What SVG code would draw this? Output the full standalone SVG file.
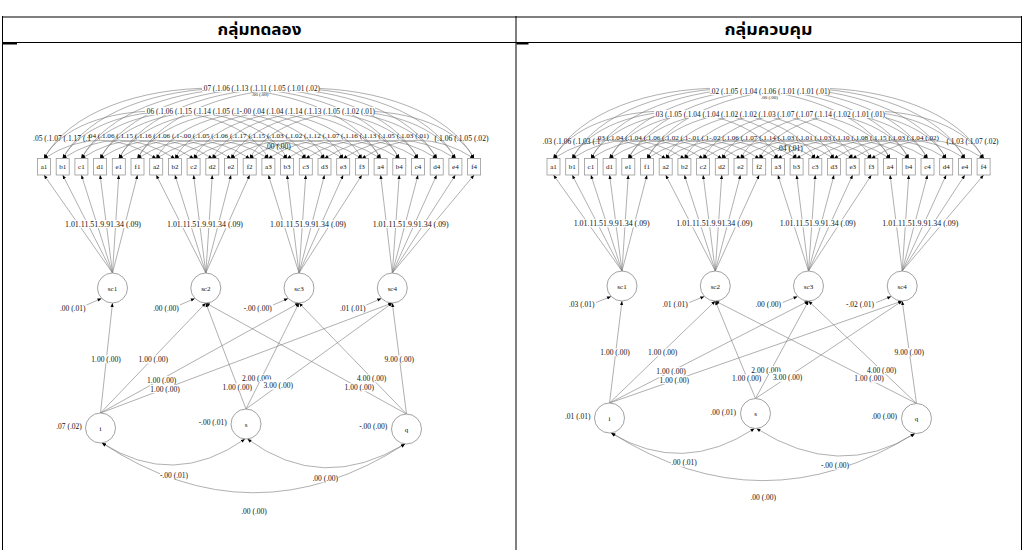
<svg xmlns="http://www.w3.org/2000/svg" width="1024" height="550" viewBox="0 0 1024 550">
<defs>
<marker id="ah" viewBox="0 0 10 10" refX="10" refY="5" markerWidth="4.5" markerHeight="4" markerUnits="userSpaceOnUse" orient="auto-start-reverse"><path d="M0,1 L10,5 L0,9 z" fill="#000"/></marker>
</defs>
<style>
.c{fill:none;stroke:#7a7a7a;stroke-width:0.6}
.a{marker-end:url(#ah)}
.aa{marker-start:url(#ah);marker-end:url(#ah)}
.bx{fill:#fff;stroke:#9a9a9a;stroke-width:0.8}
.lv{fill:#fff;stroke:#8a8a8a;stroke-width:0.8}
.t{font-family:"Liberation Serif","Times New Roman",serif;font-size:7.5px;fill:#111;text-anchor:middle}
.s{text-anchor:start}
.n{font-size:7px}
.sm{font-size:5px}
.r3{font-size:7.15px}
.bg{fill:#fff}
.hd{font-family:"Noto Sans Thai","Noto Sans",sans-serif;font-size:16px;font-weight:bold;text-anchor:middle;fill:#000}
.tb{stroke:#000;stroke-width:1;fill:none}
</style>
<rect width="1024" height="550" fill="#fff"/>
<g id="table">
<line class="tb" x1="2" y1="17" x2="1022" y2="17" stroke-width="2"/>
<line class="tb" x1="2" y1="42.5" x2="1022" y2="42.5"/>
<line class="tb" x1="2.5" y1="16" x2="2.5" y2="550"/>
<line class="tb" x1="516" y1="16" x2="516" y2="550"/>
<line class="tb" x1="1021.5" y1="16" x2="1021.5" y2="550"/>
<rect x="3" y="43" width="14" height="1.5" fill="#000"/>
<rect x="516.5" y="43" width="12" height="1.5" fill="#000"/>
<text class="hd" x="259.5" y="35" textLength="84" lengthAdjust="spacingAndGlyphs">กลุ่มทดลอง</text>
<text class="hd" x="768.5" y="35" textLength="88" lengthAdjust="spacingAndGlyphs">กลุ่มควบคุม</text>
</g>

<g id="left">
<g id="L-connectors">
<path class="c aa" d="M44 158.5 Q100.1 122 156.2 158.5"/>
<path class="c aa" d="M62.7 158.5 Q118.8 122 174.9 158.5"/>
<path class="c aa" d="M81.4 158.5 Q137.5 122 193.6 158.5"/>
<path class="c aa" d="M100.1 158.5 Q156.2 122 212.3 158.5"/>
<path class="c aa" d="M118.8 158.5 Q174.9 122 231 158.5"/>
<path class="c aa" d="M137.5 158.5 Q193.6 122 249.7 158.5"/>
<path class="c aa" d="M156.2 158.5 Q212.3 122 268.4 158.5"/>
<path class="c aa" d="M174.9 158.5 Q231 122 287.1 158.5"/>
<path class="c aa" d="M193.6 158.5 Q249.7 122 305.8 158.5"/>
<path class="c aa" d="M212.3 158.5 Q268.4 122 324.5 158.5"/>
<path class="c aa" d="M231 158.5 Q287.1 122 343.2 158.5"/>
<path class="c aa" d="M249.7 158.5 Q305.8 122 361.9 158.5"/>
<path class="c aa" d="M268.4 158.5 Q324.5 122 380.6 158.5"/>
<path class="c aa" d="M287.1 158.5 Q343.2 122 399.3 158.5"/>
<path class="c aa" d="M305.8 158.5 Q361.9 122 418 158.5"/>
<path class="c aa" d="M324.5 158.5 Q380.6 122 436.7 158.5"/>
<path class="c aa" d="M343.2 158.5 Q399.3 122 455.4 158.5"/>
<path class="c aa" d="M361.9 158.5 Q418 122 474.1 158.5"/>
<path class="c aa" d="M44 158.5 C77.7 95.3 234.7 95.3 268.4 158.5"/>
<path class="c aa" d="M62.7 158.5 C96.4 95.3 253.4 95.3 287.1 158.5"/>
<path class="c aa" d="M81.4 158.5 C115.1 95.3 272.1 95.3 305.8 158.5"/>
<path class="c aa" d="M100.1 158.5 C133.8 95.3 290.8 95.3 324.5 158.5"/>
<path class="c aa" d="M118.8 158.5 C152.5 95.3 309.5 95.3 343.2 158.5"/>
<path class="c aa" d="M137.5 158.5 C171.2 95.3 328.2 95.3 361.9 158.5"/>
<path class="c aa" d="M156.2 158.5 C189.9 95.3 346.9 95.3 380.6 158.5"/>
<path class="c aa" d="M174.9 158.5 C208.6 95.3 365.6 95.3 399.3 158.5"/>
<path class="c aa" d="M193.6 158.5 C227.3 95.3 384.3 95.3 418 158.5"/>
<path class="c aa" d="M212.3 158.5 C246 95.3 403 95.3 436.7 158.5"/>
<path class="c aa" d="M231 158.5 C264.7 95.3 421.7 95.3 455.4 158.5"/>
<path class="c aa" d="M249.7 158.5 C283.4 95.3 440.4 95.3 474.1 158.5"/>
<path class="c aa" d="M44 158.5 C94.5 64.7 330.1 64.7 380.6 158.5"/>
<path class="c aa" d="M62.7 158.5 C113.2 64.7 348.8 64.7 399.3 158.5"/>
<path class="c aa" d="M81.4 158.5 C131.9 64.7 367.5 64.7 418 158.5"/>
<path class="c aa" d="M100.1 158.5 C150.6 64.7 386.2 64.7 436.7 158.5"/>
<path class="c aa" d="M118.8 158.5 C169.3 64.7 404.9 64.7 455.4 158.5"/>
<path class="c aa" d="M137.5 158.5 C188 64.7 423.6 64.7 474.1 158.5"/>
<line class="c a" x1="112.5" y1="273" x2="44" y2="175"/>
<line class="c a" x1="112.5" y1="273" x2="62.7" y2="175"/>
<line class="c a" x1="112.5" y1="273" x2="81.4" y2="175"/>
<line class="c a" x1="112.5" y1="273" x2="100.1" y2="175"/>
<line class="c a" x1="112.5" y1="273" x2="118.8" y2="175"/>
<line class="c a" x1="112.5" y1="273" x2="137.5" y2="175"/>
<line class="c a" x1="205.8" y1="273" x2="156.2" y2="175"/>
<line class="c a" x1="205.8" y1="273" x2="174.9" y2="175"/>
<line class="c a" x1="205.8" y1="273" x2="193.6" y2="175"/>
<line class="c a" x1="205.8" y1="273" x2="212.3" y2="175"/>
<line class="c a" x1="205.8" y1="273" x2="231" y2="175"/>
<line class="c a" x1="205.8" y1="273" x2="249.7" y2="175"/>
<line class="c a" x1="299" y1="273" x2="268.4" y2="175"/>
<line class="c a" x1="299" y1="273" x2="287.1" y2="175"/>
<line class="c a" x1="299" y1="273" x2="305.8" y2="175"/>
<line class="c a" x1="299" y1="273" x2="324.5" y2="175"/>
<line class="c a" x1="299" y1="273" x2="343.2" y2="175"/>
<line class="c a" x1="299" y1="273" x2="361.9" y2="175"/>
<line class="c a" x1="392.3" y1="273" x2="380.6" y2="175"/>
<line class="c a" x1="392.3" y1="273" x2="399.3" y2="175"/>
<line class="c a" x1="392.3" y1="273" x2="418" y2="175"/>
<line class="c a" x1="392.3" y1="273" x2="436.7" y2="175"/>
<line class="c a" x1="392.3" y1="273" x2="455.4" y2="175"/>
<line class="c a" x1="392.3" y1="273" x2="474.1" y2="175"/>
<line class="c a" x1="86.5" y1="305" x2="101.5" y2="298.5"/>
<line class="c a" x1="179.8" y1="305" x2="194.8" y2="298.5"/>
<line class="c a" x1="273" y1="305" x2="288" y2="298.5"/>
<line class="c a" x1="366.3" y1="305" x2="381.3" y2="298.5"/>
<line class="c a" x1="100.5" y1="413" x2="112.5" y2="303"/>
<line class="c a" x1="100.5" y1="413" x2="205.8" y2="303"/>
<line class="c a" x1="100.5" y1="413" x2="299" y2="303"/>
<line class="c a" x1="100.5" y1="413" x2="392.3" y2="303"/>
<line class="c a" x1="246" y1="409" x2="205.8" y2="303"/>
<line class="c a" x1="246" y1="409" x2="299" y2="303"/>
<line class="c a" x1="246" y1="409" x2="392.3" y2="303"/>
<line class="c a" x1="406.5" y1="414" x2="205.8" y2="303"/>
<line class="c a" x1="406.5" y1="414" x2="299" y2="303"/>
<line class="c a" x1="406.5" y1="414" x2="392.3" y2="303"/>
<path class="c aa" d="M102 443 Q174 489 245 439"/>
<path class="c aa" d="M247.5 439 Q322 494 405 444"/>
<path class="c aa" d="M102 443 Q253 542 405 444"/>
</g>
<g id="L-a1"><rect class="bx" x="37.5" y="158.5" width="13" height="16.5"/><text class="t n" x="44" y="169.3">a1</text></g>
<g id="L-b1"><rect class="bx" x="56.2" y="158.5" width="13" height="16.5"/><text class="t n" x="62.7" y="169.3">b1</text></g>
<g id="L-c1"><rect class="bx" x="74.9" y="158.5" width="13" height="16.5"/><text class="t n" x="81.4" y="169.3">c1</text></g>
<g id="L-d1"><rect class="bx" x="93.6" y="158.5" width="13" height="16.5"/><text class="t n" x="100.1" y="169.3">d1</text></g>
<g id="L-e1"><rect class="bx" x="112.3" y="158.5" width="13" height="16.5"/><text class="t n" x="118.8" y="169.3">e1</text></g>
<g id="L-f1"><rect class="bx" x="131" y="158.5" width="13" height="16.5"/><text class="t n" x="137.5" y="169.3">f1</text></g>
<g id="L-a2"><rect class="bx" x="149.7" y="158.5" width="13" height="16.5"/><text class="t n" x="156.2" y="169.3">a2</text></g>
<g id="L-b2"><rect class="bx" x="168.4" y="158.5" width="13" height="16.5"/><text class="t n" x="174.9" y="169.3">b2</text></g>
<g id="L-c2"><rect class="bx" x="187.1" y="158.5" width="13" height="16.5"/><text class="t n" x="193.6" y="169.3">c2</text></g>
<g id="L-d2"><rect class="bx" x="205.8" y="158.5" width="13" height="16.5"/><text class="t n" x="212.3" y="169.3">d2</text></g>
<g id="L-e2"><rect class="bx" x="224.5" y="158.5" width="13" height="16.5"/><text class="t n" x="231" y="169.3">e2</text></g>
<g id="L-f2"><rect class="bx" x="243.2" y="158.5" width="13" height="16.5"/><text class="t n" x="249.7" y="169.3">f2</text></g>
<g id="L-a3"><rect class="bx" x="261.9" y="158.5" width="13" height="16.5"/><text class="t n" x="268.4" y="169.3">a3</text></g>
<g id="L-b3"><rect class="bx" x="280.6" y="158.5" width="13" height="16.5"/><text class="t n" x="287.1" y="169.3">b3</text></g>
<g id="L-c3"><rect class="bx" x="299.3" y="158.5" width="13" height="16.5"/><text class="t n" x="305.8" y="169.3">c3</text></g>
<g id="L-d3"><rect class="bx" x="318" y="158.5" width="13" height="16.5"/><text class="t n" x="324.5" y="169.3">d3</text></g>
<g id="L-e3"><rect class="bx" x="336.7" y="158.5" width="13" height="16.5"/><text class="t n" x="343.2" y="169.3">e3</text></g>
<g id="L-f3"><rect class="bx" x="355.4" y="158.5" width="13" height="16.5"/><text class="t n" x="361.9" y="169.3">f3</text></g>
<g id="L-a4"><rect class="bx" x="374.1" y="158.5" width="13" height="16.5"/><text class="t n" x="380.6" y="169.3">a4</text></g>
<g id="L-b4"><rect class="bx" x="392.8" y="158.5" width="13" height="16.5"/><text class="t n" x="399.3" y="169.3">b4</text></g>
<g id="L-c4"><rect class="bx" x="411.5" y="158.5" width="13" height="16.5"/><text class="t n" x="418" y="169.3">c4</text></g>
<g id="L-d4"><rect class="bx" x="430.2" y="158.5" width="13" height="16.5"/><text class="t n" x="436.7" y="169.3">d4</text></g>
<g id="L-e4"><rect class="bx" x="448.9" y="158.5" width="13" height="16.5"/><text class="t n" x="455.4" y="169.3">e4</text></g>
<g id="L-f4"><rect class="bx" x="467.6" y="158.5" width="13" height="16.5"/><text class="t n" x="474.1" y="169.3">f4</text></g>
<g id="L-sc1"><circle class="lv" cx="112.5" cy="288" r="15"/><text class="t n" x="112.5" y="290.5">sc1</text></g>
<g id="L-sc2"><circle class="lv" cx="205.8" cy="288" r="15"/><text class="t n" x="205.8" y="290.5">sc2</text></g>
<g id="L-sc3"><circle class="lv" cx="299" cy="288" r="15"/><text class="t n" x="299" y="290.5">sc3</text></g>
<g id="L-sc4"><circle class="lv" cx="392.3" cy="288" r="15"/><text class="t n" x="392.3" y="290.5">sc4</text></g>
<g id="L-i"><circle class="lv" cx="100.5" cy="428" r="15"/><text class="t n" x="100.5" y="430.5">i</text></g>
<g id="L-s"><circle class="lv" cx="246" cy="424" r="15"/><text class="t n" x="246" y="426.5">s</text></g>
<g id="L-q"><circle class="lv" cx="406.5" cy="429" r="15"/><text class="t n" x="406.5" y="431.5">q</text></g>
<g id="L-labels">
<rect class="bg" x="202" y="84" width="118" height="8"/>
<text class="t s" x="202" y="90.6" textLength="118" lengthAdjust="spacingAndGlyphs">.07 (.1.06 (.1.13 (.1.11 (.1.05 (.1.01 (.02)</text>
<text class="t sm" x="260" y="96">.00 (.00)</text>
<rect class="bg" x="145" y="107" width="230" height="8"/>
<text class="t s" x="145" y="113.6" textLength="230" lengthAdjust="spacingAndGlyphs">.06 (.1.06 (.1.15 (.1.14 (.1.05 (.1-.00 (.04 (.1.04 (.1.14 (.1.13 (.1.05 (.1.02 (.01)</text>
<text class="t s" x="33" y="140.8">.05 (.1.07 (.1.17 (.1</text>
<text class="t s r3" x="87" y="137.8" textLength="342" lengthAdjust="spacingAndGlyphs">.04 (.1.06 (.1.15 (.1.16 (.1.06 (.1-.00 (.1.05 (.1.06 (.1.17 (.1.15 (.1.03 (.1.02 (.1.12 (.1.07 (.1.16 (.1.13 (.1.05 (.1.03 (.01)</text>
<text class="t s" x="434.5" y="140.8" textLength="54" lengthAdjust="spacingAndGlyphs">(.1.06 (.1.05 (.02)</text>
<text class="t" x="278" y="149.2">.00 (.00)</text>
<rect class="bg" x="65" y="220" width="76" height="8"/><text class="t" x="103" y="226.6" textLength="76" lengthAdjust="spacingAndGlyphs">1.01.11.51.9.91.34 (.09)</text>
<rect class="bg" x="167" y="220" width="76" height="8"/><text class="t" x="205" y="226.6" textLength="76" lengthAdjust="spacingAndGlyphs">1.01.11.51.9.91.34 (.09)</text>
<rect class="bg" x="270" y="220" width="76" height="8"/><text class="t" x="308" y="226.6" textLength="76" lengthAdjust="spacingAndGlyphs">1.01.11.51.9.91.34 (.09)</text>
<rect class="bg" x="372.7" y="220" width="76" height="8"/><text class="t" x="410.7" y="226.6" textLength="76" lengthAdjust="spacingAndGlyphs">1.01.11.51.9.91.34 (.09)</text>
<text class="t" x="72.7" y="310.9">.00 (.01)</text>
<text class="t" x="166" y="310.9">.00 (.00)</text>
<text class="t" x="257.7" y="310.9">-.00 (.00)</text>
<text class="t" x="352.7" y="310.9">.01 (.01)</text>
<rect class="bg" x="91" y="355.3" width="30" height="8"/><text class="t" x="106" y="361.9">1.00 (.00)</text>
<rect class="bg" x="138.3" y="355.3" width="30" height="8"/><text class="t" x="153.3" y="361.9">1.00 (.00)</text>
<rect class="bg" x="146.7" y="376" width="30" height="8"/><text class="t" x="161.7" y="382.6">1.00 (.00)</text>
<rect class="bg" x="150" y="385" width="30" height="8"/><text class="t" x="165" y="391.6">1.00 (.00)</text>
<rect class="bg" x="222.3" y="383.3" width="30" height="8"/><text class="t" x="237.3" y="389.9">1.00 (.00)</text>
<rect class="bg" x="241.7" y="374.3" width="30" height="8"/><text class="t" x="256.7" y="380.9">2.00 (.00)</text>
<rect class="bg" x="263.3" y="379.5" width="30" height="10"/><text class="t" x="278.3" y="388.3">3.00 (.00)</text>
<rect class="bg" x="356.7" y="374.3" width="30" height="8"/><text class="t" x="371.7" y="380.9">4.00 (.00)</text>
<rect class="bg" x="344.3" y="383.3" width="30" height="8"/><text class="t" x="359.3" y="389.9">1.00 (.00)</text>
<rect class="bg" x="384.3" y="355.3" width="30" height="8"/><text class="t" x="399.3" y="361.9">9.00 (.00)</text>
<text class="t" x="69" y="429.3">.07 (.02)</text>
<text class="t" x="212.7" y="425.3">-.00 (.01)</text>
<text class="t" x="373.3" y="428.6">-.00 (.00)</text>
<rect class="bg" x="160" y="471" width="28" height="8"/><text class="t" x="174" y="477.6">-.00 (.01)</text>
<rect class="bg" x="312.3" y="474.3" width="26" height="8"/><text class="t" x="325.3" y="480.9">.00 (.00)</text>
<text class="t" x="254" y="513.6">.00 (.00)</text>
</g>
</g>

<g id="right" transform="translate(509.5,0)">
<g id="R-connectors">
<path class="c aa" d="M44 158.5 Q100.1 122 156.2 158.5"/>
<path class="c aa" d="M62.7 158.5 Q118.8 122 174.9 158.5"/>
<path class="c aa" d="M81.4 158.5 Q137.5 122 193.6 158.5"/>
<path class="c aa" d="M100.1 158.5 Q156.2 122 212.3 158.5"/>
<path class="c aa" d="M118.8 158.5 Q174.9 122 231 158.5"/>
<path class="c aa" d="M137.5 158.5 Q193.6 122 249.7 158.5"/>
<path class="c aa" d="M156.2 158.5 Q212.3 122 268.4 158.5"/>
<path class="c aa" d="M174.9 158.5 Q231 122 287.1 158.5"/>
<path class="c aa" d="M193.6 158.5 Q249.7 122 305.8 158.5"/>
<path class="c aa" d="M212.3 158.5 Q268.4 122 324.5 158.5"/>
<path class="c aa" d="M231 158.5 Q287.1 122 343.2 158.5"/>
<path class="c aa" d="M249.7 158.5 Q305.8 122 361.9 158.5"/>
<path class="c aa" d="M268.4 158.5 Q324.5 122 380.6 158.5"/>
<path class="c aa" d="M287.1 158.5 Q343.2 122 399.3 158.5"/>
<path class="c aa" d="M305.8 158.5 Q361.9 122 418 158.5"/>
<path class="c aa" d="M324.5 158.5 Q380.6 122 436.7 158.5"/>
<path class="c aa" d="M343.2 158.5 Q399.3 122 455.4 158.5"/>
<path class="c aa" d="M361.9 158.5 Q418 122 474.1 158.5"/>
<path class="c aa" d="M44 158.5 C77.7 95.3 234.7 95.3 268.4 158.5"/>
<path class="c aa" d="M62.7 158.5 C96.4 95.3 253.4 95.3 287.1 158.5"/>
<path class="c aa" d="M81.4 158.5 C115.1 95.3 272.1 95.3 305.8 158.5"/>
<path class="c aa" d="M100.1 158.5 C133.8 95.3 290.8 95.3 324.5 158.5"/>
<path class="c aa" d="M118.8 158.5 C152.5 95.3 309.5 95.3 343.2 158.5"/>
<path class="c aa" d="M137.5 158.5 C171.2 95.3 328.2 95.3 361.9 158.5"/>
<path class="c aa" d="M156.2 158.5 C189.9 95.3 346.9 95.3 380.6 158.5"/>
<path class="c aa" d="M174.9 158.5 C208.6 95.3 365.6 95.3 399.3 158.5"/>
<path class="c aa" d="M193.6 158.5 C227.3 95.3 384.3 95.3 418 158.5"/>
<path class="c aa" d="M212.3 158.5 C246 95.3 403 95.3 436.7 158.5"/>
<path class="c aa" d="M231 158.5 C264.7 95.3 421.7 95.3 455.4 158.5"/>
<path class="c aa" d="M249.7 158.5 C283.4 95.3 440.4 95.3 474.1 158.5"/>
<path class="c aa" d="M44 158.5 C94.5 64.7 330.1 64.7 380.6 158.5"/>
<path class="c aa" d="M62.7 158.5 C113.2 64.7 348.8 64.7 399.3 158.5"/>
<path class="c aa" d="M81.4 158.5 C131.9 64.7 367.5 64.7 418 158.5"/>
<path class="c aa" d="M100.1 158.5 C150.6 64.7 386.2 64.7 436.7 158.5"/>
<path class="c aa" d="M118.8 158.5 C169.3 64.7 404.9 64.7 455.4 158.5"/>
<path class="c aa" d="M137.5 158.5 C188 64.7 423.6 64.7 474.1 158.5"/>
<line class="c a" x1="112.5" y1="271" x2="44" y2="175"/>
<line class="c a" x1="112.5" y1="271" x2="62.7" y2="175"/>
<line class="c a" x1="112.5" y1="271" x2="81.4" y2="175"/>
<line class="c a" x1="112.5" y1="271" x2="100.1" y2="175"/>
<line class="c a" x1="112.5" y1="271" x2="118.8" y2="175"/>
<line class="c a" x1="112.5" y1="271" x2="137.5" y2="175"/>
<line class="c a" x1="205.8" y1="271" x2="156.2" y2="175"/>
<line class="c a" x1="205.8" y1="271" x2="174.9" y2="175"/>
<line class="c a" x1="205.8" y1="271" x2="193.6" y2="175"/>
<line class="c a" x1="205.8" y1="271" x2="212.3" y2="175"/>
<line class="c a" x1="205.8" y1="271" x2="231" y2="175"/>
<line class="c a" x1="205.8" y1="271" x2="249.7" y2="175"/>
<line class="c a" x1="299" y1="271" x2="268.4" y2="175"/>
<line class="c a" x1="299" y1="271" x2="287.1" y2="175"/>
<line class="c a" x1="299" y1="271" x2="305.8" y2="175"/>
<line class="c a" x1="299" y1="271" x2="324.5" y2="175"/>
<line class="c a" x1="299" y1="271" x2="343.2" y2="175"/>
<line class="c a" x1="299" y1="271" x2="361.9" y2="175"/>
<line class="c a" x1="392.7" y1="271" x2="380.6" y2="175"/>
<line class="c a" x1="392.7" y1="271" x2="399.3" y2="175"/>
<line class="c a" x1="392.7" y1="271" x2="418" y2="175"/>
<line class="c a" x1="392.7" y1="271" x2="436.7" y2="175"/>
<line class="c a" x1="392.7" y1="271" x2="455.4" y2="175"/>
<line class="c a" x1="392.7" y1="271" x2="474.1" y2="175"/>
<line class="c a" x1="86.5" y1="302.5" x2="101.5" y2="296.5"/>
<line class="c a" x1="179.8" y1="302.5" x2="194.8" y2="296.5"/>
<line class="c a" x1="273" y1="302.5" x2="288" y2="296.5"/>
<line class="c a" x1="366.7" y1="302.5" x2="381.7" y2="296.5"/>
<line class="c a" x1="100" y1="403" x2="112.5" y2="301"/>
<line class="c a" x1="100" y1="403" x2="205.8" y2="301"/>
<line class="c a" x1="100" y1="403" x2="299" y2="301"/>
<line class="c a" x1="100" y1="403" x2="392.7" y2="301"/>
<line class="c a" x1="246" y1="398.5" x2="205.8" y2="301"/>
<line class="c a" x1="246" y1="398.5" x2="299" y2="301"/>
<line class="c a" x1="246" y1="398.5" x2="392.7" y2="301"/>
<line class="c a" x1="407" y1="403.5" x2="205.8" y2="301"/>
<line class="c a" x1="407" y1="403.5" x2="299" y2="301"/>
<line class="c a" x1="407" y1="403.5" x2="392.7" y2="301"/>
<path class="c aa" d="M101.5 433 Q173 476 245 428.5"/>
<path class="c aa" d="M247 428.5 Q330 481 405.5 433.5"/>
<path class="c aa" d="M102 433 Q253 528 405 433.5"/>
</g>
<g id="R-a1"><rect class="bx" x="37.5" y="158.5" width="13" height="16.5"/><text class="t n" x="44" y="169.3">a1</text></g>
<g id="R-b1"><rect class="bx" x="56.2" y="158.5" width="13" height="16.5"/><text class="t n" x="62.7" y="169.3">b1</text></g>
<g id="R-c1"><rect class="bx" x="74.9" y="158.5" width="13" height="16.5"/><text class="t n" x="81.4" y="169.3">c1</text></g>
<g id="R-d1"><rect class="bx" x="93.6" y="158.5" width="13" height="16.5"/><text class="t n" x="100.1" y="169.3">d1</text></g>
<g id="R-e1"><rect class="bx" x="112.3" y="158.5" width="13" height="16.5"/><text class="t n" x="118.8" y="169.3">e1</text></g>
<g id="R-f1"><rect class="bx" x="131" y="158.5" width="13" height="16.5"/><text class="t n" x="137.5" y="169.3">f1</text></g>
<g id="R-a2"><rect class="bx" x="149.7" y="158.5" width="13" height="16.5"/><text class="t n" x="156.2" y="169.3">a2</text></g>
<g id="R-b2"><rect class="bx" x="168.4" y="158.5" width="13" height="16.5"/><text class="t n" x="174.9" y="169.3">b2</text></g>
<g id="R-c2"><rect class="bx" x="187.1" y="158.5" width="13" height="16.5"/><text class="t n" x="193.6" y="169.3">c2</text></g>
<g id="R-d2"><rect class="bx" x="205.8" y="158.5" width="13" height="16.5"/><text class="t n" x="212.3" y="169.3">d2</text></g>
<g id="R-e2"><rect class="bx" x="224.5" y="158.5" width="13" height="16.5"/><text class="t n" x="231" y="169.3">e2</text></g>
<g id="R-f2"><rect class="bx" x="243.2" y="158.5" width="13" height="16.5"/><text class="t n" x="249.7" y="169.3">f2</text></g>
<g id="R-a3"><rect class="bx" x="261.9" y="158.5" width="13" height="16.5"/><text class="t n" x="268.4" y="169.3">a3</text></g>
<g id="R-b3"><rect class="bx" x="280.6" y="158.5" width="13" height="16.5"/><text class="t n" x="287.1" y="169.3">b3</text></g>
<g id="R-c3"><rect class="bx" x="299.3" y="158.5" width="13" height="16.5"/><text class="t n" x="305.8" y="169.3">c3</text></g>
<g id="R-d3"><rect class="bx" x="318" y="158.5" width="13" height="16.5"/><text class="t n" x="324.5" y="169.3">d3</text></g>
<g id="R-e3"><rect class="bx" x="336.7" y="158.5" width="13" height="16.5"/><text class="t n" x="343.2" y="169.3">e3</text></g>
<g id="R-f3"><rect class="bx" x="355.4" y="158.5" width="13" height="16.5"/><text class="t n" x="361.9" y="169.3">f3</text></g>
<g id="R-a4"><rect class="bx" x="374.1" y="158.5" width="13" height="16.5"/><text class="t n" x="380.6" y="169.3">a4</text></g>
<g id="R-b4"><rect class="bx" x="392.8" y="158.5" width="13" height="16.5"/><text class="t n" x="399.3" y="169.3">b4</text></g>
<g id="R-c4"><rect class="bx" x="411.5" y="158.5" width="13" height="16.5"/><text class="t n" x="418" y="169.3">c4</text></g>
<g id="R-d4"><rect class="bx" x="430.2" y="158.5" width="13" height="16.5"/><text class="t n" x="436.7" y="169.3">d4</text></g>
<g id="R-e4"><rect class="bx" x="448.9" y="158.5" width="13" height="16.5"/><text class="t n" x="455.4" y="169.3">e4</text></g>
<g id="R-f4"><rect class="bx" x="467.6" y="158.5" width="13" height="16.5"/><text class="t n" x="474.1" y="169.3">f4</text></g>
<g id="R-sc1"><circle class="lv" cx="112.5" cy="286" r="15"/><text class="t n" x="112.5" y="288.5">sc1</text></g>
<g id="R-sc2"><circle class="lv" cx="205.8" cy="286" r="15"/><text class="t n" x="205.8" y="288.5">sc2</text></g>
<g id="R-sc3"><circle class="lv" cx="299" cy="286" r="15"/><text class="t n" x="299" y="288.5">sc3</text></g>
<g id="R-sc4"><circle class="lv" cx="392.7" cy="286" r="15"/><text class="t n" x="392.7" y="288.5">sc4</text></g>
<g id="R-i"><circle class="lv" cx="100" cy="418" r="15"/><text class="t n" x="100" y="420.5">i</text></g>
<g id="R-s"><circle class="lv" cx="246" cy="413.5" r="15"/><text class="t n" x="246" y="416">s</text></g>
<g id="R-q"><circle class="lv" cx="407" cy="418.5" r="15"/><text class="t n" x="407" y="421">q</text></g>
<g id="R-labels">
<rect class="bg" x="200.5" y="87" width="120" height="8"/>
<text class="t s" x="200.5" y="93.5" textLength="120" lengthAdjust="spacingAndGlyphs">.02 (.1.05 (.1.04 (.1.06 (.1.01 (.1.01 (.01)</text>
<text class="t sm" x="260" y="98.5">.00 (.00)</text>
<rect class="bg" x="144.5" y="110" width="231" height="8"/>
<text class="t s" x="144.5" y="116.5" textLength="231" lengthAdjust="spacingAndGlyphs">.03 (.1.05 (.1.04 (.1.04 (.1.02 (.1.02 (.1.03 (.1.07 (.1.07 (.1.14 (.1.02 (.1.01 (.01)</text>
<text class="t s" x="33" y="143.5">.03 (.1.06 (.1.03 (.1</text>
<text class="t s r3" x="86.5" y="140.3" textLength="343" lengthAdjust="spacingAndGlyphs">.03 (.1.04 (.1.04 (.1.06 (.1.02 (.1-.01 (.1-.02 (.1.06 (.1.07 (.1.14 (.1.03 (.1.01 (.1.03 (.1.10 (.1.08 (.1.15 (.1.03 (.1.04 (.02)</text>
<text class="t s" x="437" y="143.5" textLength="52" lengthAdjust="spacingAndGlyphs">(.1.03 (.1.07 (.02)</text>
<text class="t" x="280.5" y="150.8">.04 (.01)</text>
<rect class="bg" x="64.2" y="219.3" width="76" height="8"/><text class="t" x="102.2" y="225.9" textLength="76" lengthAdjust="spacingAndGlyphs">1.01.11.51.9.91.34 (.09)</text>
<rect class="bg" x="166.8" y="219.3" width="76" height="8"/><text class="t" x="204.8" y="225.9" textLength="76" lengthAdjust="spacingAndGlyphs">1.01.11.51.9.91.34 (.09)</text>
<rect class="bg" x="270.2" y="219.3" width="76" height="8"/><text class="t" x="308.2" y="225.9" textLength="76" lengthAdjust="spacingAndGlyphs">1.01.11.51.9.91.34 (.09)</text>
<rect class="bg" x="372.8" y="219.3" width="76" height="8"/><text class="t" x="410.8" y="225.9" textLength="76" lengthAdjust="spacingAndGlyphs">1.01.11.51.9.91.34 (.09)</text>
<text class="t" x="72.2" y="306.6">.03 (.01)</text>
<text class="t" x="165.5" y="306.6">.01 (.01)</text>
<text class="t" x="258.8" y="306.6">.00 (.00)</text>
<text class="t" x="350.5" y="306.6">-.02 (.01)</text>
<rect class="bg" x="90.5" y="348.3" width="30" height="8"/><text class="t" x="105.5" y="354.9">1.00 (.00)</text>
<rect class="bg" x="138.2" y="348.3" width="30" height="8"/><text class="t" x="153.2" y="354.9">1.00 (.00)</text>
<rect class="bg" x="146.5" y="367" width="30" height="8"/><text class="t" x="161.5" y="373.6">1.00 (.00)</text>
<rect class="bg" x="149.8" y="376" width="30" height="8"/><text class="t" x="164.8" y="382.6">1.00 (.00)</text>
<rect class="bg" x="222.2" y="374.3" width="30" height="8"/><text class="t" x="237.2" y="380.9">1.00 (.00)</text>
<rect class="bg" x="241.5" y="366" width="30" height="8"/><text class="t" x="256.5" y="372.6">2.00 (.00)</text>
<rect class="bg" x="263.2" y="371.8" width="30" height="10"/><text class="t" x="278.2" y="379.9">3.00 (.00)</text>
<rect class="bg" x="357.2" y="366" width="30" height="8"/><text class="t" x="372.2" y="372.6">4.00 (.00)</text>
<rect class="bg" x="344.5" y="374.7" width="30" height="8"/><text class="t" x="359.5" y="381.3">1.00 (.00)</text>
<rect class="bg" x="384.8" y="348.3" width="30" height="8"/><text class="t" x="399.8" y="354.9">9.00 (.00)</text>
<text class="t" x="68.2" y="419.3">.01 (.01)</text>
<text class="t" x="213.8" y="414.9">.00 (.01)</text>
<text class="t" x="374.8" y="418.6">.00 (.00)</text>
<rect class="bg" x="161.5" y="458.7" width="26" height="8"/><text class="t" x="174.5" y="465.3">.00 (.01)</text>
<rect class="bg" x="311.5" y="461.7" width="28" height="8"/><text class="t" x="325.5" y="468.3">-.00 (.00)</text>
<text class="t" x="253.8" y="499.9">.00 (.00)</text>
</g>
</g>
</svg>
